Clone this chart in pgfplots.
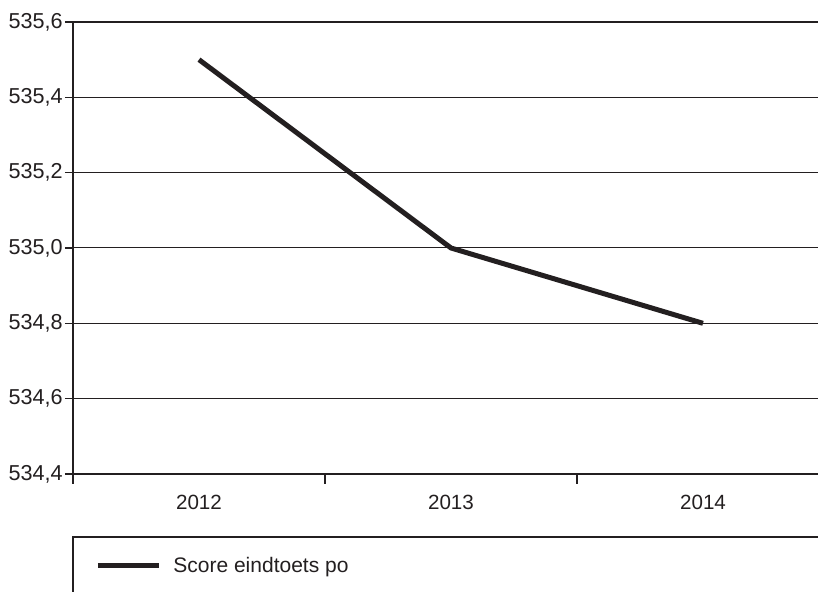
\documentclass[border=0pt]{standalone}
\usepackage{fontspec}
\setmainfont{Liberation Sans}
\usepackage{pgfplots}
\pgfplotsset{compat=1.18}
\definecolor{ink}{HTML}{231F20}
\begin{document}
\begin{tikzpicture}[x=1pt,y=1pt]
\useasboundingbox (0,0) rectangle (409,296);
\clip (0,0) rectangle (409,296);
\draw[ink, line width=1.25pt] (36.5,-20) -- (36.5,27.5) -- (430,27.5);
\begin{axis}[
  at={(36.5pt,59pt)}, anchor=south west,
  width=378pt, height=226pt, scale only axis,
  xmin=-0.5, xmax=2.5, ymin=534.4, ymax=535.6,
  xtick={0,1,2}, xticklabels={2012,2013,2014},
  minor xtick={-0.5,0.5,1.5,2.5},
  ytick={534.4,534.6,534.8,535.0,535.2,535.4,535.6},
  xtick pos=bottom, ytick pos=left,
  ymajorgrids, grid style={ink, line width=0.5pt},
  axis line style={ink, line width=1.25pt},
  tick align=outside,
  major tick length=4pt, minor tick length=5pt,
  major x tick style={draw=none},
  minor x tick style={ink, line width=0.6pt},
  major y tick style={ink, line width=0.6pt},
  /pgf/number format/.cd, use comma, fixed, fixed zerofill, precision=1, 1000 sep={}, assume math mode=true,
  /pgfplots/.cd,
  yticklabel style={font=\fontsize{10.8}{12}\selectfont, text=ink, inner sep=1pt},
  xticklabel style={font=\fontsize{10.3}{12}\selectfont, text=ink, yshift=-3pt},
  legend style={at={(0.0291,-0.2035)}, anchor=west, draw=none, fill=none, inner sep=0pt,
    font=\fontsize{10.5}{12}\selectfont, text=ink},
  legend image code/.code={\draw[line width=2.5pt, ink] (0pt,0pt) -- (30.5pt,0pt);},
  legend cell align=left,
  clip=false,
]
\addplot[ink, line width=2.5pt, line join=miter] coordinates {(0,535.5) (1,535.0) (2,534.8)};
\addlegendentry{\hspace{4pt}Score eindtoets po}
\end{axis}
\end{tikzpicture}
\end{document}
